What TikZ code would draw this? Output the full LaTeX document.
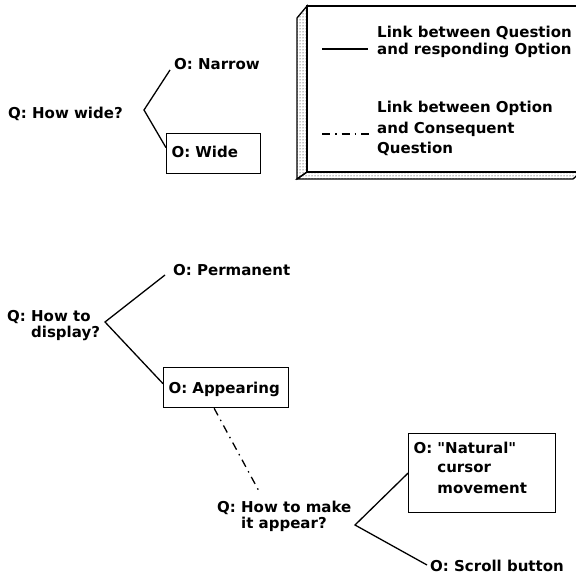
\documentclass[tikz,border=0pt]{standalone}
\usepackage{fontspec}
\setmainfont{DejaVu Sans}
\usepackage{tikz}
\usetikzlibrary{patterns}

\newcommand{\diafont}{\fontsize{15}{16}\selectfont\bfseries}
% "Q: text" with the later lines hung under the first word
\newcommand{\hang}[2]{#1:~\begin{tabular}[t]{@{}l@{}}#2\end{tabular}}

\begin{document}
\begin{tikzpicture}[x=1pt,y=-1pt,
		lbl/.style={inner sep=0pt,anchor=base west,font=\diafont},
		optbox/.style={draw,line width=1.3pt,inner xsep=5pt,inner ysep=0pt,
			align=left,anchor=north west,font=\diafont},
		link/.style={line width=1.3pt},
		conseq/.style={line width=1.3pt,dash pattern=on 8pt off 5pt on 1.5pt off 5pt}]
		\useasboundingbox (0,0) rectangle (576,575);
		\clip (0,0) rectangle (576,575);

		% Legend panel
		\begin{scope}
			\draw[line width=1.3pt,pattern=dots] (307,6) -- (297,18) -- (297,179) -- (307,172) -- cycle;
			\draw[line width=1.3pt,pattern=dots] (297,179) -- (573,179) -- (581,172) -- (307,172) -- cycle;
			\draw[line width=1.3pt] (307,6) rectangle (581,172);
			\node[lbl] (lsolid) at (377,38) {\begin{tabular}[t]{@{}l@{}}Link between Question\\and responding Option\end{tabular}};
			\node[lbl] (ldash) at (377,113) {\begin{tabular}[t]{@{}l@{}}Link between Option\\[4pt]and Consequent\\[4pt]Question\end{tabular}};
			\coordinate (sa) at (322,49);
			\coordinate (sb) at (368,49);
			\coordinate (da) at (322,134);
			\coordinate (db) at (372,134);
			\draw[link] (sa) -- (sb);
			\draw[conseq] (da) -- (db);
		\end{scope}

		% How wide?
		\begin{scope}
			\node[lbl] (qwide) at (8,119) {Q: How wide?};
			\node[lbl] (onarrow) at (174,70) {O: Narrow};
			\node[optbox,text width=84pt,text height=24pt,text depth=16pt] (owide) at (166,133) {\mbox{O: Wide}};
			\coordinate (wv) at (144,110);
			\draw[link] ([xshift=-4pt]onarrow.base west) -- (wv) -- ([yshift=6pt]owide.west);
		\end{scope}

		% How to display?
		\begin{scope}
			\node[lbl] (qdisp) at (7,321) {\hang{Q}{How to\\display?}};
			\node[lbl] (operm) at (173,275) {O: Permanent};
			\node[optbox,text width=115pt,text height=26pt,text depth=14pt] (oappear) at (163,367) {\mbox{O: Appearing}};
			\coordinate (dv) at (105,322);
			\draw[link] ([xshift=-8pt]operm.base west) -- (dv) -- ([yshift=4pt]oappear.west);
		\end{scope}

		% How to make it appear?
		\begin{scope}
			\node[lbl] (qappear) at (217,512) {\hang{Q}{How to make\\it appear?}};
			\node[optbox,text width=137pt,text height=20pt,text depth=59pt] (onatural) at (408,433)
				{\hang{O}{\textquotedbl Natural\textquotedbl\\[3pt]cursor\\[5pt]movement}};
			\node[lbl] (oscroll) at (430,571) {O: Scroll button};
			\coordinate (av) at (355,525);
			\draw[link] (onatural.west) -- (av) -- ([xshift=-3pt,yshift=6pt]oscroll.base west);
			\draw[conseq] ([xshift=-12pt]oappear.south) -- ([xshift=43pt,yshift=19pt]qappear.base west);
		\end{scope}
	\end{tikzpicture}
\end{document}
